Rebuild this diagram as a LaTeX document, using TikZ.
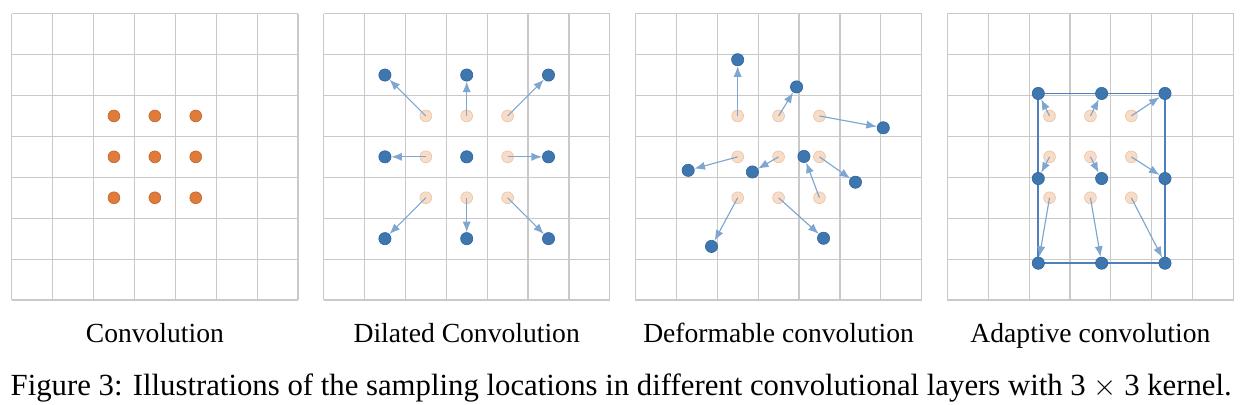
\documentclass[tikz,border=0pt]{standalone}
\usepackage{fontspec}
\setmainfont{Liberation Serif}
\usetikzlibrary{arrows.meta}

\definecolor{gridgray}{HTML}{C9C9C9}
\definecolor{orangefill}{HTML}{E07B39}
\definecolor{orangeline}{HTML}{B8652F}
\definecolor{peachfill}{HTML}{F8DCC5}
\definecolor{peachline}{HTML}{E6C3A6}
\definecolor{bluefill}{HTML}{3E76AF}
\definecolor{blueline}{HTML}{31639A}
\definecolor{arrowblue}{HTML}{7FA6D0}
\definecolor{boxblue}{HTML}{4C80BE}

\begin{document}
\begin{tikzpicture}[line width = 0.7pt,
                        gridline/.style = {draw = gridgray, line width = 0.8pt},
                        kernel/.style = {circle, draw = orangeline, fill = orangefill, line width = 0.4pt, inner sep = 0pt, minimum size = 0.29cm},
                        regular/.style = {circle, draw = peachline, fill = peachfill, line width = 0.4pt, inner sep = 0pt, minimum size = 0.29cm},
                        sampled/.style = {circle, draw = blueline, fill = bluefill, line width = 0.4pt, inner sep = 0pt, minimum size = 0.3cm},
                        offset/.style = {draw = arrowblue, line width = 0.8pt, -{Latex[length = 0.26cm, width = 0.2cm]}},
                        label/.style = {anchor = base, font = \fontsize{19.2}{23}\selectfont}]
      \useasboundingbox (0, 0) rectangle (30.318, 9.902);

      % convolution
      \begin{scope}[shift = {(0.286, 2.567)}]
        \draw [gridline] (0, 0) grid (7, 7);
        \foreach \i in {1, 2, 3}
          \foreach \j in {1, 2, 3}
            \node [kernel] (c\i\j) at (1.5 + \i, 1.5 + \j){};
      \end{scope}
      \node [label] (t1) at (3.786, 1.54){Convolution};

      % dilated convolution
      \begin{scope}[shift = {(7.911, 2.567)}]
        \draw [gridline] (0, 0) grid (7, 7);
        \foreach \i in {1, 2, 3}
          \foreach \j in {1, 2, 3}
            \node [regular] (d\i\j) at (1.5 + \i, 1.5 + \j){};
        \foreach \i in {1, 2, 3}
          \foreach \j in {1, 2, 3}
            \node [sampled] (e\i\j) at (2 * \i - 0.5, 2 * \j - 0.5){};
        \foreach \i/\j in {1/1, 1/2, 1/3, 2/1, 2/3, 3/1, 3/2, 3/3}
          \draw [offset] (d\i\j.center) -- (e\i\j);
      \end{scope}
      \node [label] (t2) at (11.411, 1.54){Dilated Convolution};

      % deformable convolution
      \begin{scope}[shift = {(15.536, 2.567)}]
        \draw [gridline] (0, 0) grid (7, 7);
        \foreach \i in {1, 2, 3}
          \foreach \j in {1, 2, 3}
            \node [regular] (f\i\j) at (1.5 + \i, 1.5 + \j){};
        \foreach \i/\j/\x/\y in {1/3/2.5/5.875, 2/3/3.94/5.21, 3/3/6.06/4.21,
                                 1/2/1.29/3.17, 2/2/2.86/3.13, 3/2/5.38/2.88,
                                 1/1/1.86/1.31, 2/1/4.60/1.51, 3/1/4.12/3.51}
          {
            \node [sampled] (g\i\j) at (\x, \y){};
            \draw [offset] (f\i\j.center) -- (g\i\j);
          }
      \end{scope}
      \node [label] (t3) at (19.036, 1.54){Deformable convolution};

      % adaptive convolution
      \begin{scope}[shift = {(23.161, 2.567)}]
        \draw [gridline] (0, 0) grid (7, 7);
        \coordinate (x1) at (2.225, 0);
        \coordinate (x2) at (3.774, 0);
        \coordinate (x3) at (5.323, 0);
        \coordinate (y1) at (0, 0.90);
        \coordinate (y2) at (0, 2.97);
        \coordinate (y3) at (0, 5.05);
        \draw [boxblue, line width = 1.3pt] (x1 |- y1) rectangle (x3 |- y3);
        \foreach \i in {1, 2, 3}
          \foreach \j in {1, 2, 3}
            \node [regular] (a\i\j) at (1.5 + \i, 1.5 + \j){};
        \foreach \i in {1, 2, 3}
          \foreach \j in {1, 2, 3}
            {
              \node [sampled] (b\i\j) at (x\i |- y\j){};
              \draw [offset] (a\i\j.center) -- (b\i\j);
            }
      \end{scope}
      \node [label] (t4) at (26.661, 1.54){Adaptive convolution};

      \node [label, font = \fontsize{21.4}{25}\selectfont] (cap) at (15.19, 0.22){Figure 3: Illustrations of the sampling locations in different convolutional layers with 3 $\times$ 3 kernel.};
    \end{tikzpicture}
\end{document}
